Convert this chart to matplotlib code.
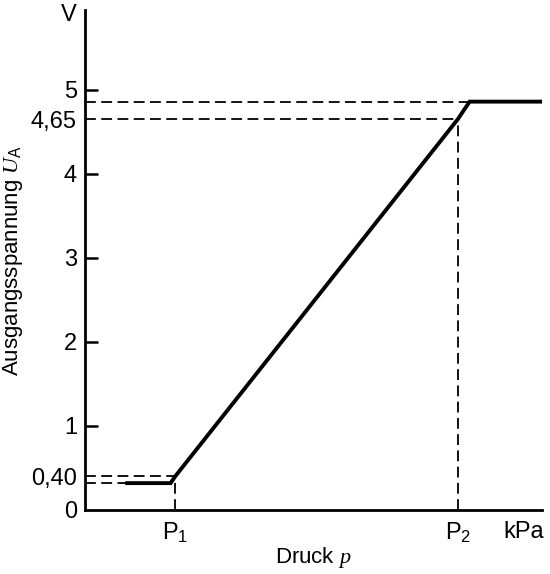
import matplotlib
matplotlib.use('Agg')
import matplotlib.pyplot as plt

# Kennlinie Drucksensor (x in willkuerlichen Einheiten)
druck = [0.92, 1.87, 1.97, 8.16, 8.42, 10.0]
spannung = [0.32, 0.32, 0.40, 4.65, 4.86, 4.86]

y_ticks = [0, 0.40, 1, 2, 3, 4, 4.65, 5, 5.92]
y_labels = ['0', '0,40', '1', '2', '3', '4', '4,65', '5', 'V']
x_ticks = [1.97, 8.16, 9.6]
x_labels = ['P$_1$', 'P$_2$', 'kPa']

plt.rcParams['font.family'] = ['Liberation Sans', 'DejaVu Sans']
plt.rcParams['mathtext.fontset'] = 'custom'
plt.rcParams['mathtext.rm'] = 'Liberation Sans'
plt.rcParams['mathtext.it'] = 'Liberation Serif:italic'
fig = plt.figure(figsize=(5.5, 5.74), dpi=100)
ax = fig.add_axes([0.155, 0.1115, 0.83, 0.871])

ax.plot(druck, spannung, color='black', lw=2.8, solid_joinstyle='miter')

# Hilfslinien
dash = dict(color='black', lw=1.3, ls=(0, (6, 3)))
for i in [1, 2, 3, 4]:
    ax.plot([0, druck[i]], [spannung[i], spannung[i]], **dash)
ax.plot([druck[2], druck[2]], [0, spannung[2]], **dash)
ax.plot([druck[3], druck[3]], [0, spannung[3]], **dash)

ax.set_xlim(0, 10)
ax.set_ylim(0, 5.95)
ax.spines['top'].set_visible(False)
ax.spines['right'].set_visible(False)
ax.spines['left'].set_linewidth(2)
ax.spines['bottom'].set_linewidth(2)

ax.set_yticks(y_ticks, y_labels)
ax.tick_params(axis='y', direction='in', length=9, width=1.8, labelsize=17, pad=6)
for t in ax.yaxis.get_major_ticks():
    if t.label1.get_text() in ('0,40', '4,65', 'V', '0'):
        t.tick1line.set_visible(False)
ax.set_xticks(x_ticks, x_labels)
ax.tick_params(axis='x', length=0, labelsize=17, pad=8)

ax.set_xlabel('Druck $p$', fontsize=16, labelpad=0)
ax.set_ylabel('Ausgangsspannung $U_\\mathrm{A}$', fontsize=16, labelpad=4)

fig.savefig('out.png', dpi=100)
